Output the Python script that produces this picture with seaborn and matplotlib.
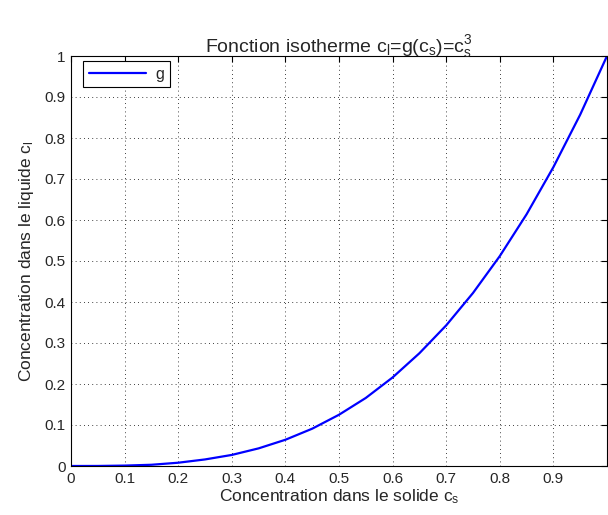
import numpy as np
import pandas as pd
import matplotlib
matplotlib.use("Agg")
import matplotlib.pyplot as plt
import seaborn as sns

# values
c_s = [0.0, 0.05, 0.10, 0.15, 0.20, 0.25, 0.30, 0.35, 0.40, 0.45, 0.50,
       0.55, 0.60, 0.65, 0.70, 0.75, 0.80, 0.85, 0.90, 0.95, 1.0]
c_l = [0.0, 0.0001, 0.001, 0.003, 0.008, 0.016, 0.027, 0.043, 0.064, 0.091, 0.125,
       0.166, 0.216, 0.275, 0.343, 0.422, 0.512, 0.614, 0.729, 0.857, 1.0]
x_ticks = [0, 0.1, 0.2, 0.3, 0.4, 0.5, 0.6, 0.7, 0.8, 0.9, 1]
y_ticks = [0, 0.1, 0.2, 0.3, 0.4, 0.5, 0.6, 0.7, 0.8, 0.9, 1]
# the last x label falls outside the picture in the reference
x_labels = ["0", "0.1", "0.2", "0.3", "0.4", "0.5", "0.6", "0.7", "0.8", "0.9", ""]

df = pd.DataFrame({"cs": c_s, "cl": c_l})

sns.set_style("white")
plt.rcParams['font.family'] = ['Liberation Sans', 'DejaVu Sans']
plt.rcParams['mathtext.fontset'] = 'custom'
plt.rcParams['mathtext.rm'] = 'Liberation Sans'
plt.rcParams['mathtext.it'] = 'Liberation Sans'

fig = plt.figure(figsize=(6.08, 5.15), dpi=100)
ax = fig.add_axes([71 / 608, 1 - 466 / 515, 536 / 608, 410 / 515])

sns.lineplot(data=df, x="cs", y="cl", ax=ax, color="#0000ff", linewidth=1.6, label="g")

ax.set_xlim(0, 1)
ax.set_ylim(0, 1)
ax.set_xticks(x_ticks)
ax.set_yticks(y_ticks)
ax.set_xticklabels(x_labels)
ax.set_yticklabels([f"{t:g}" for t in y_ticks])
ax.tick_params(direction="in", length=4, top=True, right=True, labelsize=11,
               color="black", pad=4)
ax.grid(True, linestyle=(0, (1, 4)), color="black", linewidth=0.6)
for s in ax.spines.values():
    s.set_color("black")
    s.set_linewidth(0.8)

ax.set_xlabel(r"Concentration dans le solide c$_\mathrm{s}$", fontsize=12.5, labelpad=1)
ax.set_ylabel(r"Concentration dans le liquide c$_\mathrm{l}$", fontsize=12.5, labelpad=6)
ax.set_title(r"Fonction isotherme c$_\mathrm{l}$=g(c$_\mathrm{s}$)=c$_\mathrm{s}^3$",
             fontsize=14, pad=3)

leg = ax.legend(loc="upper left", fontsize=11.5, frameon=True, fancybox=False,
                handlelength=3.6, handletextpad=0.6, borderpad=0.35,
                borderaxespad=0.0, bbox_to_anchor=(12 / 536, 1 - 5 / 410))
leg.get_frame().set_edgecolor("black")
leg.get_frame().set_linewidth(0.8)
leg.get_frame().set_alpha(1)

fig.savefig("out.png", dpi=100)
